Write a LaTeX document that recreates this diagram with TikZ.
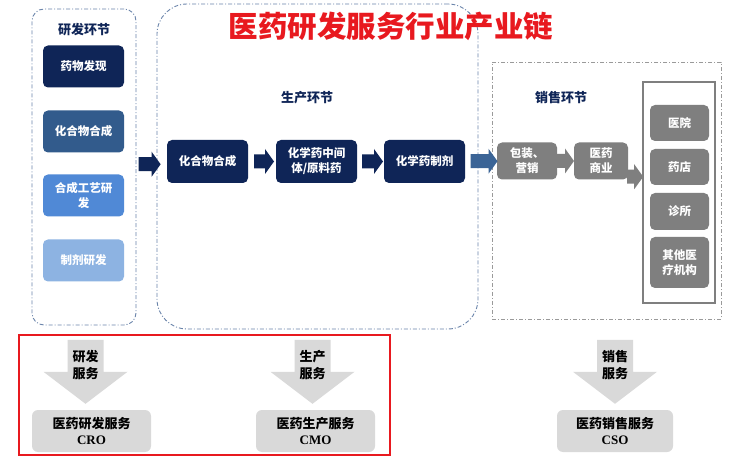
\documentclass[tikz,border=0pt]{standalone}
\usepackage{fontspec}
\setmainfont{Noto Sans CJK SC}
\newfontfamily\latinserif{Liberation Serif}
\usetikzlibrary{calc}
\definecolor{navy}{HTML}{0F2557}
\definecolor{midblue}{HTML}{325B8C}
\definecolor{brightblue}{HTML}{5089D6}
\definecolor{paleblue}{HTML}{8DB3E2}
\definecolor{steelarrow}{HTML}{3B6496}
\definecolor{boxgray}{HTML}{7F7F7F}
\definecolor{lightgray2}{HTML}{D9D9D9}
\definecolor{titlered}{HTML}{E8191F}
\definecolor{zoneblue}{HTML}{6A84AA}
\definecolor{zonegray}{HTML}{9A9A9A}
% #1 colour, #2 centre coordinate, #3 length
\newcommand\blockarrow[3]{%
  \fill[#1] ($(#2)+({-#3/2},-7)$) -- ++({#3-9},0) -- ++(0,-5.5) -- ++(9,12.5)
    -- ++(-9,12.5) -- ++(0,-5.5) -- ++({-(#3-9)},0) -- cycle;}
\begin{document}
\begin{tikzpicture}[x=1pt,y=-1pt,
  zone/.style={draw, line width=0.9pt, dash pattern=on 4pt off 2pt on 1pt off 2pt, inner sep=0},
  stagebox/.style={rounded corners=5pt, text=white, inner sep=0, align=center,
    font=\bfseries\fontsize{11.5}{15}\selectfont},
  header/.style={text=navy, font=\bfseries\fontsize{13}{15}\selectfont},
  svcbox/.style={fill=lightgray2, rounded corners=6pt, inner sep=0, align=center,
    minimum height=42, font=\bfseries\fontsize{13}{16}\selectfont},
  svctext/.style={align=center, font=\bfseries\fontsize{13}{16.5}\selectfont}
]
\useasboundingbox (0,0) rectangle (750,457);
\fill[white] (0,0) rectangle (750,457);

% zones
\node[zone, draw=zoneblue, rounded corners=12pt, minimum width=104, minimum height=316] (rdzone) at (84,167) {};
\node[zone, draw=zoneblue, rounded corners=30pt, minimum width=321, minimum height=325] (pdzone) at (317.5,166.5) {};
\node[zone, draw=zonegray, minimum width=229, minimum height=257] (slzone) at (606.5,190.5) {};

% title
\node[text=titlered, font=\bfseries\fontsize{29.5}{32}\selectfont] (title) at (391,26) {医药研发服务行业产业链};

% headers
\node[header] (h1) at (84,30) {研发环节};
\node[header] (h2) at (307,98) {生产环节};
\node[header] (h3) at (561,98) {销售环节};

% R&D boxes
\node[stagebox, fill=navy, minimum width=81, minimum height=42] (r1) at (83.5,66.5) {药物发现};
\node[stagebox, fill=midblue, minimum width=81, minimum height=42] (r2) at (83.5,131.5) {化合物合成};
\node[stagebox, fill=brightblue, minimum width=81, minimum height=42] (r3) at (83.5,195.5) {合成工艺研\\发};
\node[stagebox, fill=paleblue, minimum width=81, minimum height=42] (r4) at (83.5,260.5) {制剂研发};

% production boxes
\node[stagebox, fill=navy, minimum width=81, minimum height=43] (p1) at (207.5,161.5) {化合物合成};
\node[stagebox, fill=navy, minimum width=81, minimum height=43] (p2) at (316.5,161.5) {化学药中间\\体/原料药};
\node[stagebox, fill=navy, minimum width=81, minimum height=43] (p3) at (424.5,161.5) {化学药制剂};

% sales boxes
\node[stagebox, fill=boxgray, minimum width=60, minimum height=37] (s1) at (527,161) {包装、\\营销};
\node[stagebox, fill=boxgray, minimum width=54, minimum height=37] (s2) at (601,161) {医药\\商业};
\node[draw=boxgray, line width=1.6pt, inner sep=0, minimum width=72, minimum height=221] (outlets) at (679,192.5) {};
\node[stagebox, fill=boxgray, minimum width=59, minimum height=36] (o1) at (679.5,123) {医院};
\node[stagebox, fill=boxgray, minimum width=59, minimum height=36] (o2) at (679.5,167) {药店};
\node[stagebox, fill=boxgray, minimum width=59, minimum height=37] (o3) at (679.5,211.5) {诊所};
\node[stagebox, fill=boxgray, minimum width=59, minimum height=51] (o4) at (679.5,262.5) {其他医\\疗机构};

% horizontal block arrows
\coordinate (a0) at ($(rdzone.east)!0.5!(p1.west)+(-2,0)$);
\coordinate (a1) at ($(p1.east)!0.5!(p2.west)+(2,0)$);
\coordinate (a2) at ($(p2.east)!0.5!(p3.west)+(2,0)$);
\coordinate (a3) at ($(p3.east)!0.5!(s1.west)+(3,0)$);
\coordinate (a4) at ($(s1.east)!0.5!(s2.west)$);
\coordinate (a5) at ($(s2.east)!0.5!(outlets.west)$);
\blockarrow{navy}{a0}{22}
\blockarrow{navy}{a1}{20}
\blockarrow{navy}{a2}{21}
\blockarrow{steelarrow}{a3}{27}
\blockarrow{boxgray}{a4}{17}
\blockarrow{boxgray}{a5}{16}

% bottom red frame
\draw[titlered, line width=2pt] (19,335) rectangle (390,455);

% service boxes
\node[svcbox, minimum width=119] (cro) at (91.5,431) {医药研发服务\\{\latinserif CRO}};
\node[svcbox, minimum width=119] (cmo) at (315.5,431) {医药生产服务\\{\latinserif CMO}};
\node[svcbox, minimum width=116] (cso) at (615,431) {医药销售服务\\{\latinserif CSO}};

% down arrows
\coordinate (d1) at ($(cro.north)+(-6,-70)$);
\coordinate (d2) at ($(cmo.north)+(-3,-70)$);
\coordinate (d3) at ($(cso.north)+(0,-70)$);
\foreach \d in {d1,d2,d3}{
  \fill[lightgray2] (\d) ++(-18,0) -- ++(36,0) -- ++(0,32) -- ++(24,0) -- ++(-42,32)
    -- ++(-42,-32) -- ++(24,0) -- cycle;
}
\node[svctext] (t1) at ($(d1)+(0,25)$) {研发\\服务};
\node[svctext] (t2) at ($(d2)+(0,25)$) {生产\\服务};
\node[svctext] (t3) at ($(d3)+(0,25)$) {销售\\服务};
\end{tikzpicture}
\end{document}
